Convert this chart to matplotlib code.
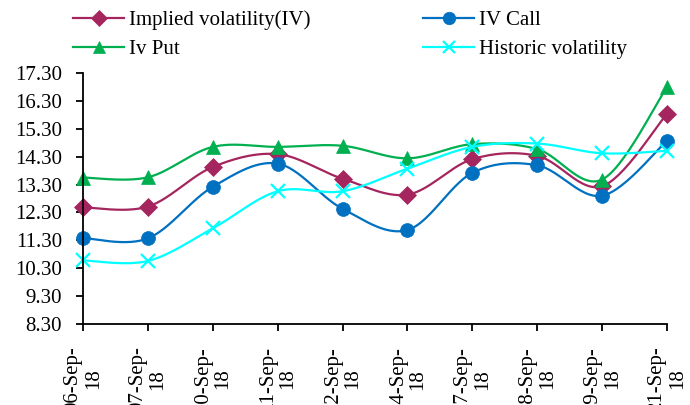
import numpy as np
import matplotlib
matplotlib.use('Agg')
import matplotlib.pyplot as plt
from matplotlib.lines import Line2D

# data
dates = ['06-Sep-18', '07-Sep-18', '10-Sep-18', '11-Sep-18', '12-Sep-18',
         '14-Sep-18', '17-Sep-18', '18-Sep-18', '19-Sep-18', '21-Sep-18']
iv = [12.48, 12.51, 13.93, 14.39, 13.51, 12.94, 14.21, 14.33, 13.24, 15.84]
iv_call = [11.38, 11.37, 13.22, 14.05, 12.43, 11.67, 13.72, 13.99, 12.90, 14.87]
iv_put = [13.55, 13.56, 14.65, 14.65, 14.69, 14.24, 14.75, 14.57, 13.48, 16.80]
hist_vol = [10.58, 10.56, 11.73, 13.06, 13.06, 13.87, 14.65, 14.77, 14.42, 14.51]
yticks = [8.30, 9.30, 10.30, 11.30, 12.30, 13.30, 14.30, 15.30, 16.30, 17.30]

FS = 15
plt.rcParams['font.family'] = ['Liberation Serif', 'DejaVu Serif']


def smooth(x, y, n=30):
    # Excel-style smoothed line: cubic Bezier through points (Catmull-Rom control points)
    x = np.asarray(x, float); y = np.asarray(y, float); k = len(x)
    P = np.column_stack([x, y]); out = []
    for i in range(k - 1):
        p0 = P[max(i - 1, 0)]; p1 = P[i]; p2 = P[i + 1]; p3 = P[min(i + 2, k - 1)]
        c1 = p1 + (p2 - p0) / 6.0; c2 = p2 - (p3 - p1) / 6.0
        t = np.linspace(0, 1, n)[:, None]
        seg = (1 - t) ** 3 * p1 + 3 * (1 - t) ** 2 * t * c1 + 3 * (1 - t) * t ** 2 * c2 + t ** 3 * p2
        out.append(seg if i == 0 else seg[1:])
    S = np.vstack(out)
    return S[:, 0], S[:, 1]


series = [
    ('Implied volatility(IV)', iv, '#A5255E', 'D', 9),
    ('IV Call', iv_call, '#0070C0', 'o', 10),
    ('Iv Put', iv_put, '#00B050', '^', 10),
    ('Historic volatility', hist_vol, '#00FFFF', 'x', 10),
]

fig = plt.figure(figsize=(6.9, 4.05), dpi=100)
ax = fig.add_axes([0.1203, 0.2, 0.9667 - 0.1203, 0.8198 - 0.2])
xs = np.arange(len(dates))
handles = []
for name, vals, col, mk, ms in series:
    sx, sy = smooth(xs, vals)
    ax.plot(sx, sy, color=col, lw=1.6, solid_capstyle='round', clip_on=False)
    ax.plot(xs, vals, ls='none', marker=mk, ms=ms, color=col, mec=col,
            mew=(1.6 if mk == 'x' else 0.5), clip_on=False)
    handles.append(Line2D([], [], color=col, lw=1.6, marker=mk, ms=ms - 1,
                          mec=col, mew=(1.6 if mk == 'x' else 0.5)))

ax.set_xlim(0, len(dates) - 1)
ax.set_ylim(yticks[0], yticks[-1])
ax.set_yticks(yticks)
ax.set_yticklabels([f'{v:.2f}' for v in yticks], fontsize=FS)
ax.set_xticks(xs)
# labels run past the bottom edge, as in the reference
ax.set_xticklabels([d[:7] + '\n' + d[7:] for d in dates], rotation=90,
                   fontsize=FS, multialignment='center', linespacing=1.1)
for s in ('top', 'right'):
    ax.spines[s].set_visible(False)
for s in ('left', 'bottom'):
    ax.spines[s].set_linewidth(1.3)
ax.tick_params(axis='y', direction='out', length=5, width=1.3, pad=10)
ax.tick_params(axis='x', direction='out', length=5, width=1.3, pad=11)

# legend fills column-wise: reorder so rows read IV / IV Call, Iv Put / Historic
order = [0, 2, 1, 3]
fig.legend([handles[i] for i in order], [series[i][0] for i in order], ncol=2,
           loc='upper left', bbox_to_anchor=(0.1058, 0.975), frameon=False,
           fontsize=FS, handlelength=2.45, handletextpad=0.24, columnspacing=5.4,
           labelspacing=0.45, borderpad=0, borderaxespad=0)

fig.savefig('out.png', dpi=100)
